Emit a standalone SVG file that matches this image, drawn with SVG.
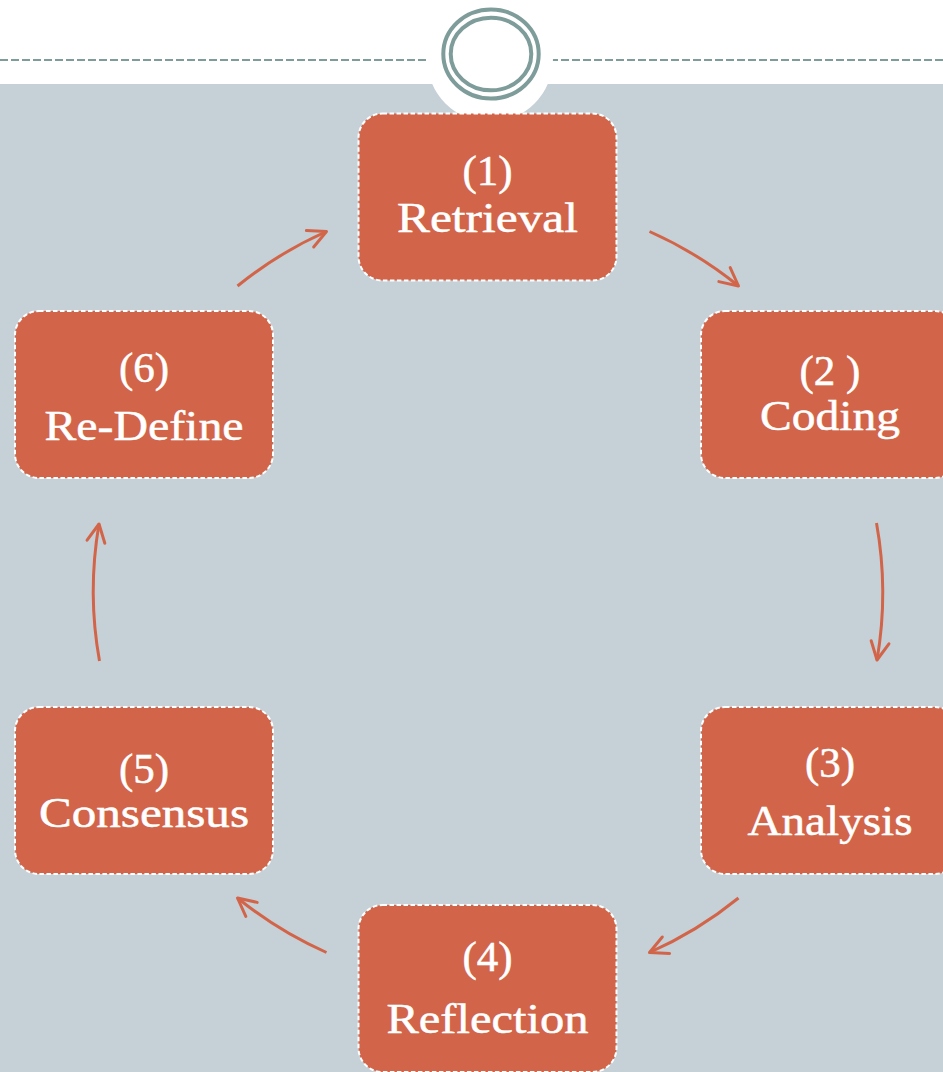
<svg xmlns="http://www.w3.org/2000/svg" width="943" height="1072" viewBox="0 0 943 1072">
<style>
.box{fill:#D26549;stroke:#ffffff;stroke-width:2;stroke-dasharray:4.5 2.5;}
.t{font-family:"Liberation Serif","Times New Roman",serif;font-size:43px;fill:#ffffff;stroke:#ffffff;stroke-width:0.5;text-anchor:middle;}
.arc{fill:none;stroke:#D26549;stroke-width:3;marker-end:url(#ah);}
.ring{fill:none;stroke:#7E9C9A;stroke-width:4;}
</style>
<defs>
<marker id="ah" markerUnits="userSpaceOnUse" viewBox="-25 -15 30 30" refX="0" refY="0" markerWidth="30" markerHeight="30" orient="auto">
<path d="M -18 -9 L 0 0 L -18 9" fill="none" stroke="#D26549" stroke-width="3" stroke-linecap="round" stroke-linejoin="round"/>
</marker>
</defs>
<rect x="0" y="0" width="943" height="1072" fill="#ffffff"/>
<rect x="0" y="84" width="943" height="988" fill="#C5D1D7"/>
<line x1="0" y1="60" x2="943" y2="60" stroke="#7E9C9A" stroke-width="2" stroke-dasharray="8 3"/>
<g id="header">
<circle cx="490" cy="59" r="63" fill="#ffffff"/>
<ellipse class="ring" cx="491" cy="54" rx="47.7" ry="44.5"/>
<ellipse class="ring" cx="491" cy="54" rx="40.3" ry="36.3"/>
</g>
<g id="connectors">
<path class="arc" d="M 649.5 231.5 A 395 395 0 0 1 738.5 286"/>
<path class="arc" d="M 876.5 523 A 395 395 0 0 1 877 660"/>
<path class="arc" d="M 738.5 898 A 395 395 0 0 1 649.5 952.5"/>
<path class="arc" d="M 326.5 952.5 A 395 395 0 0 1 237.5 898"/>
<path class="arc" d="M 99.5 661 A 395 395 0 0 1 99 524"/>
<path class="arc" d="M 237.5 286 A 395 395 0 0 1 326.5 231.5"/>
</g>
<g id="n1">
<rect class="box" x="358.5" y="113.5" width="258" height="167" rx="24"/>
<text class="t" x="487.5" y="185">(1)</text>
<text class="t" x="487.5" y="232" textLength="181" lengthAdjust="spacingAndGlyphs">Retrieval</text>
</g>
<g id="n2">
<rect class="box" x="701" y="311" width="258" height="167" rx="24"/>
<text class="t" x="830" y="385">(2 )</text>
<text class="t" x="830" y="430" textLength="140" lengthAdjust="spacingAndGlyphs">Coding</text>
</g>
<g id="n3">
<rect class="box" x="701" y="707" width="258" height="167" rx="24"/>
<text class="t" x="830" y="777">(3)</text>
<text class="t" x="830" y="835" textLength="165" lengthAdjust="spacingAndGlyphs">Analysis</text>
</g>
<g id="n4">
<rect class="box" x="358.5" y="905" width="258" height="167" rx="24"/>
<text class="t" x="487.5" y="971">(4)</text>
<text class="t" x="487.5" y="1033" textLength="202" lengthAdjust="spacingAndGlyphs">Reflection</text>
</g>
<g id="n5">
<rect class="box" x="15" y="707" width="258" height="167" rx="24"/>
<text class="t" x="144" y="783">(5)</text>
<text class="t" x="144" y="827" textLength="210" lengthAdjust="spacingAndGlyphs">Consensus</text>
</g>
<g id="n6">
<rect class="box" x="15" y="311" width="258" height="167" rx="24"/>
<text class="t" x="144" y="382">(6)</text>
<text class="t" x="144" y="440" textLength="199" lengthAdjust="spacingAndGlyphs">Re-Define</text>
</g>
</svg>
